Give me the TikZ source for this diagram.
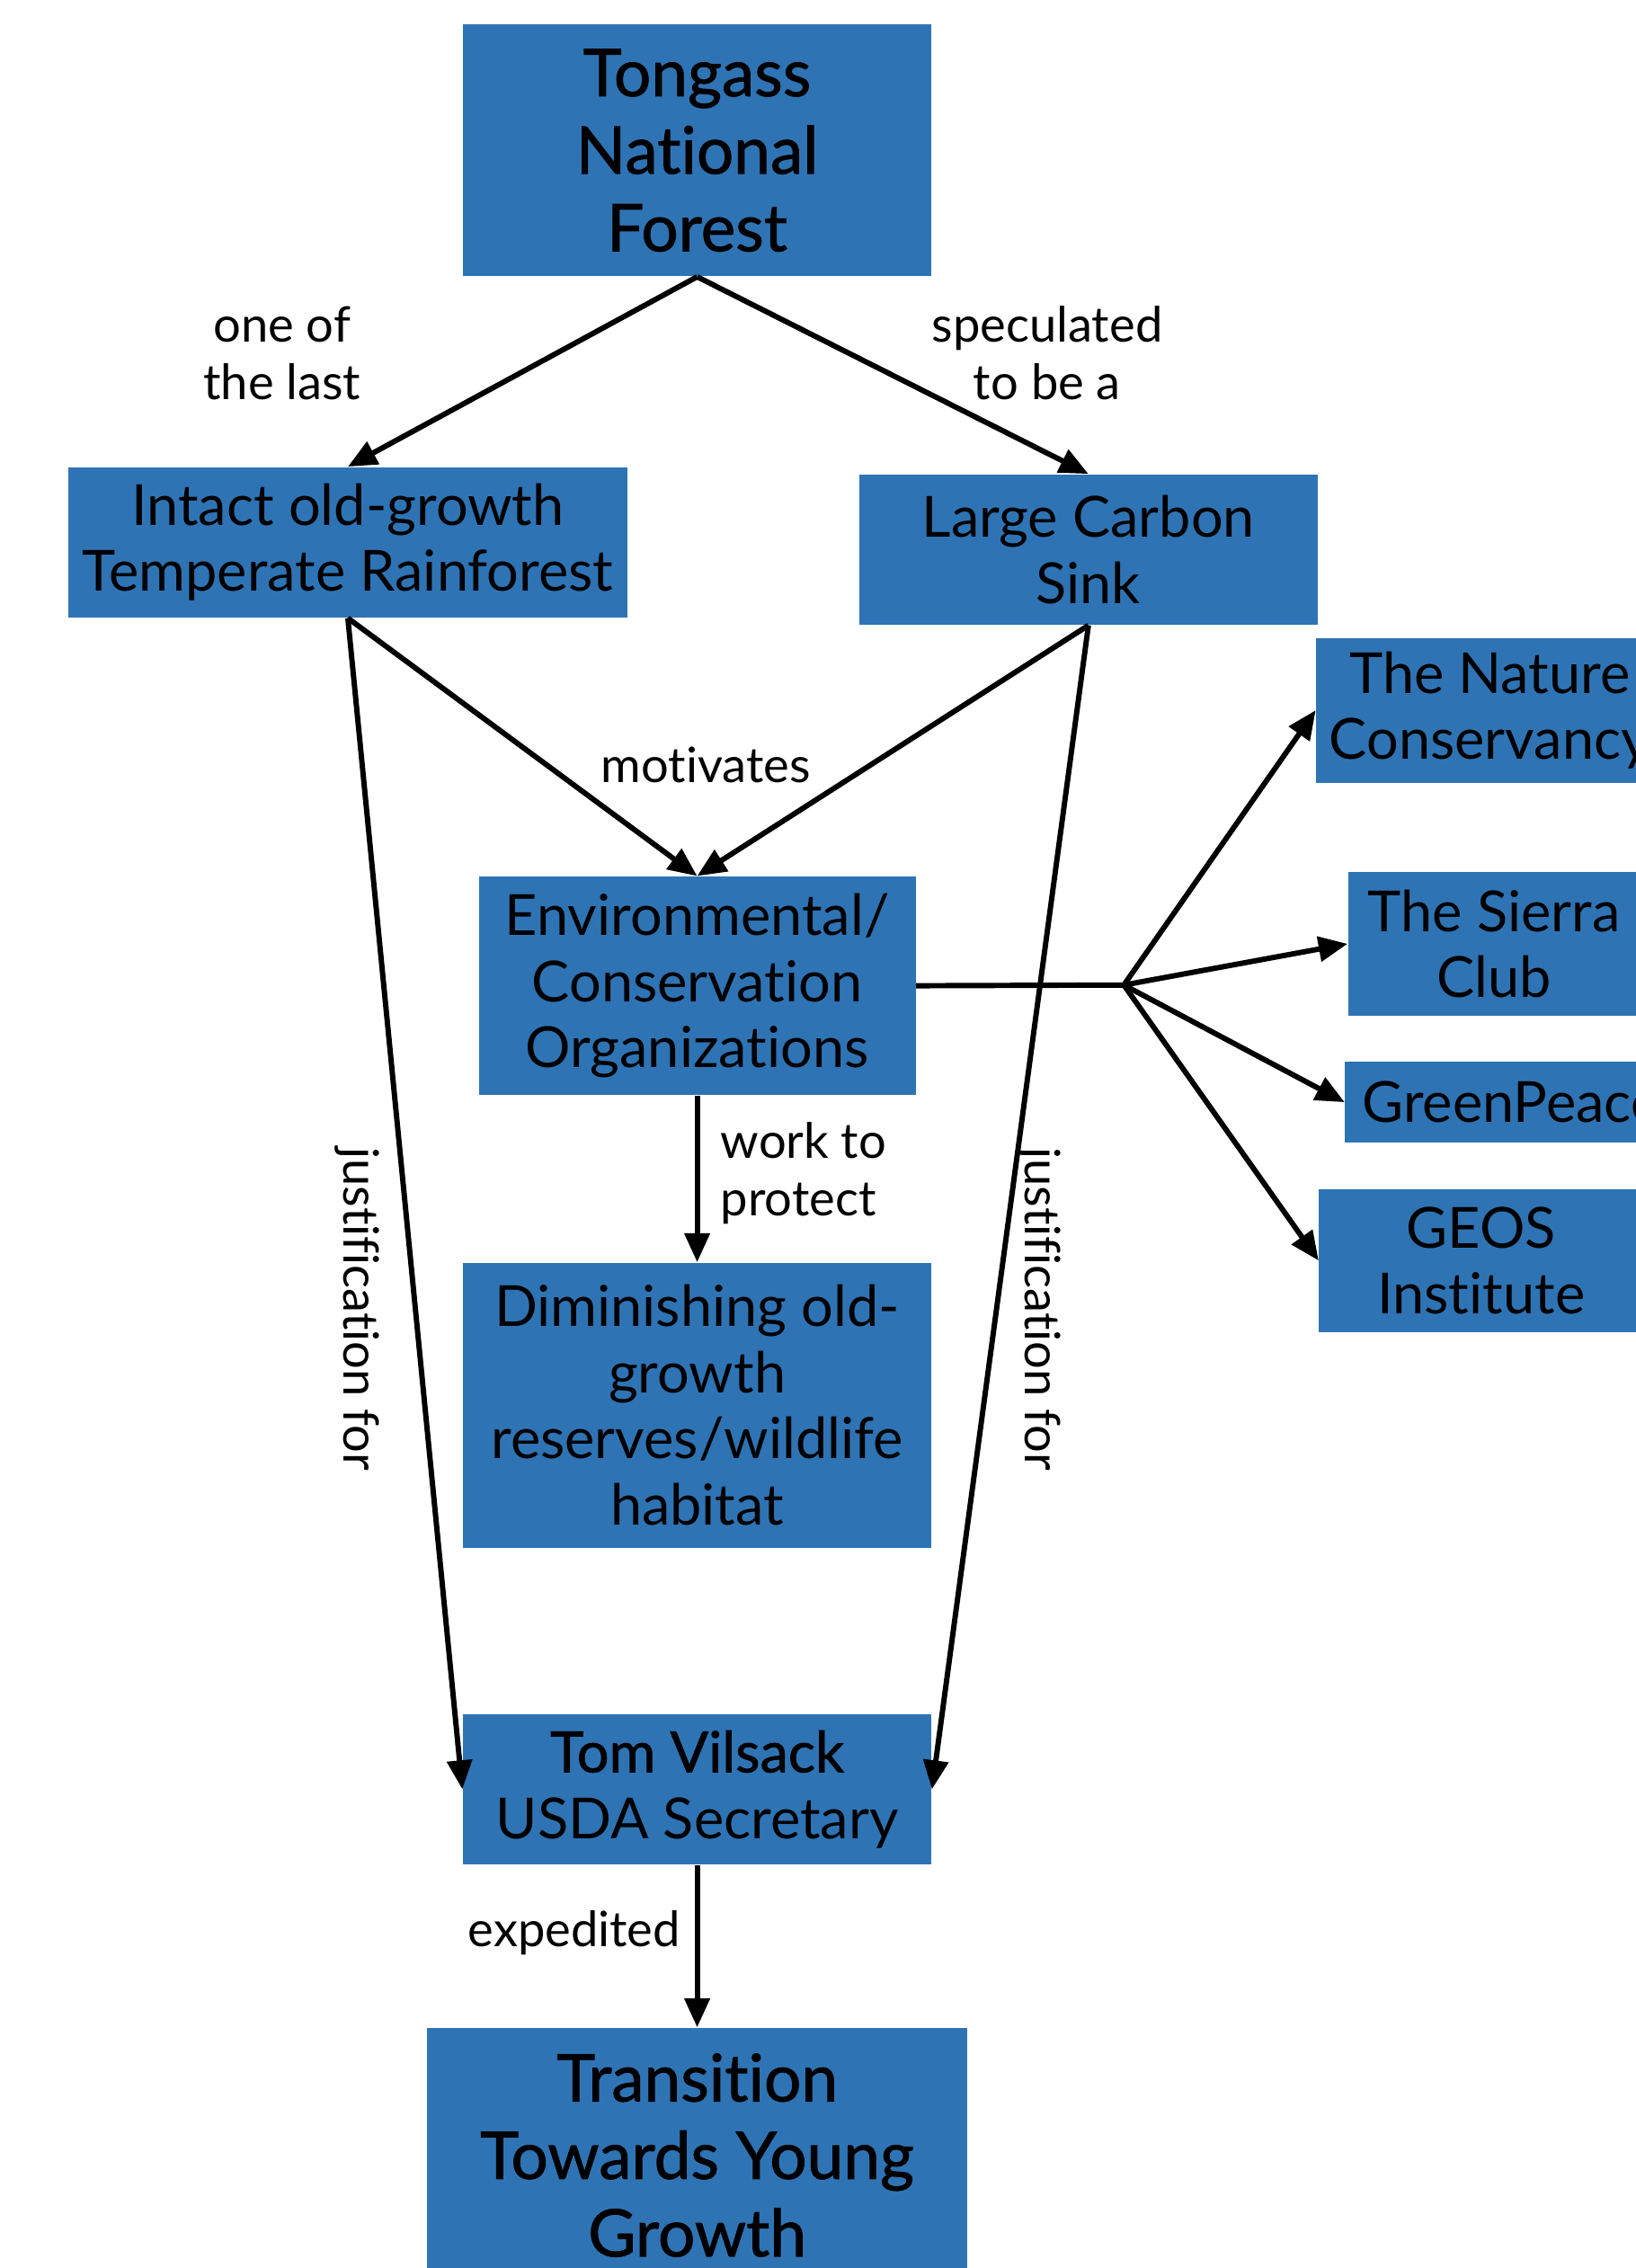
\documentclass[tikz,border=0pt]{standalone}
\usepackage{fontspec}
\setmainfont{Lato}[Ligatures=NoCommon]
\newfontfamily\medfont{Lato}[FakeBold=1.2, Ligatures=NoCommon]
\usepackage{tikz}
\usetikzlibrary{arrows.meta}
\definecolor{boxblue}{RGB}{46,116,181}

\tikzset{
  box/.style={fill=boxblue, inner sep=0pt, align=center, font=\fontsize{22.3}{26}\selectfont},
  titlebox/.style={box, font=\fontsize{25.8}{30.5}\selectfont\medfont},
  lbl/.style={align=center, font=\fontsize{19.2}{22.7}\selectfont},
  arr/.style={-{Triangle[length=4mm,width=3.4mm]}, line width=2.1pt}
}

\begin{document}
\begin{tikzpicture}[x=0.2mm, y=-0.2mm]
\useasboundingbox (0,0) rectangle (1131,1568);

% Kaesten
\node[titlebox, minimum width=64.8mm, minimum height=34.8mm] (tongass) at (482,104) {Tongass\\National\\Forest};
\node[box, minimum width=77.4mm, minimum height=20.8mm] (intact) at (240.5,375) {Intact old-growth\\Temperate Rainforest};
\node[box, minimum width=63.4mm, minimum height=20.8mm] (carbon) at (752.5,380) {Large Carbon\\Sink};
\node[box, minimum width=60.4mm, minimum height=30.2mm] (envorg) at (482,681.5) {Environmental/\\Conservation\\Organizations};
\node[box, minimum width=64.8mm, minimum height=39.4mm] (dimin) at (482,971.5) {Diminishing old-\\growth\\reserves/wildlife\\habitat};
\node[box, minimum width=64.8mm, minimum height=20.8mm] (tom) at (482,1237) {{\medfont Tom Vilsack}\\USDA Secretary};
\node[titlebox, minimum width=74.8mm, minimum height=35.2mm] (trans) at (482,1490) {Transition\\Towards Young\\Growth};

% Organisationen rechts
\node[box, minimum width=48mm, minimum height=20mm] (nature) at (1030,491) {The Nature\\Conservancy};
\node[box, minimum width=40.4mm, minimum height=19.8mm] (sierra) at (1033,652.5) {The Sierra\\Club};
\node[box, minimum width=46mm, minimum height=11.2mm] (greenp) at (1045,762) {GreenPeace};
\node[box, minimum width=44.8mm, minimum height=19.8mm] (geos) at (1024,871.5) {GEOS\\Institute};

% Pfeile
\draw[arr] (tongass.south) -- (intact.north);
\draw[arr] (tongass.south) -- (carbon.north);
\draw[arr] (intact.south) -- (envorg.north);
\draw[arr] (carbon.south) -- (envorg.north);
\draw[arr] (intact.south) -- (tom.west);
\draw[arr] (carbon.south) -- (tom.east);
\draw[arr] (envorg.south) -- (dimin.north);
\draw[arr] (tom.south) -- (trans.north);

% Verzweigung
\coordinate (hub) at (777,681);
\draw[line width=2.1pt] (envorg.east) -- (hub);
\draw[arr] (hub) -- (nature.west);
\draw[arr] (hub) -- (sierra.west);
\draw[arr] (hub) -- (greenp.west);
\draw[arr] (hub) -- (geos.west);

% Beschriftungen
\node[lbl] (lone) at (195,244) {one of\\the last};
\node[lbl] (lspec) at (724,244) {speculated\\to be a};
\node[lbl] (lmot) at (488,529) {motivates};
\node[lbl, align=left, anchor=west] (lwork) at (492,811) {work to\\protect};
\node[lbl, rotate=-90] (ljustl) at (247,905) {justification for};
\node[lbl, rotate=-90] (ljustr) at (718,905) {justification for};
\node[lbl] (lexp) at (397,1336) {expedited};
\end{tikzpicture}
\end{document}
